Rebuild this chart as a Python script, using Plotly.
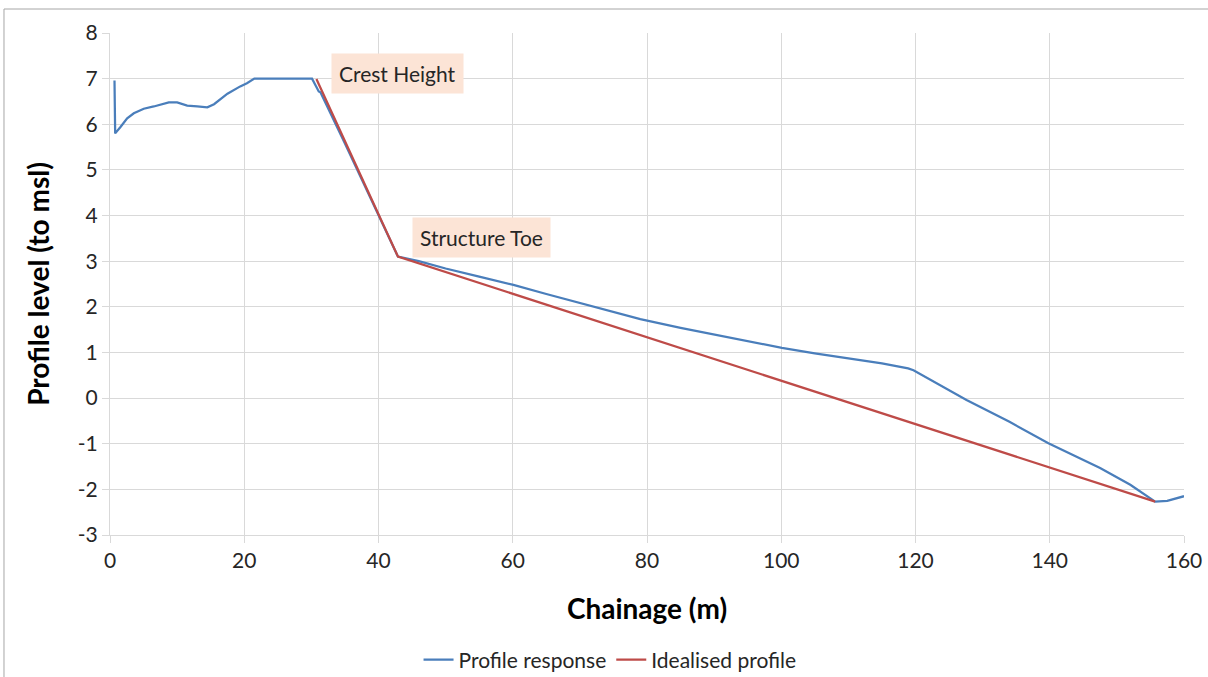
import plotly.graph_objects as go

# Profile response (blue)
resp_x = [0.67, 0.77, 1.56, 2.56, 3.55, 5.03, 6.52, 8.76, 10.0, 11.5, 13.0, 14.5, 15.5, 17.5, 19.4, 20.4, 21.5,
          30.1, 31.1, 31.35, 35.0, 40.0, 42.9, 46.0, 50.0, 55.0, 60.1, 65.0, 70.0, 75.0, 79.0, 85.0, 90.0, 95.0, 100.1,
          105.0, 110.0, 115.0, 118.9, 119.7, 127.6, 134.0, 139.8, 143.5, 147.5, 152.0, 155.7, 157.5, 160.0]
resp_y = [6.96, 5.80, 5.94, 6.13, 6.24, 6.34, 6.39, 6.48, 6.48, 6.41, 6.39, 6.37, 6.44, 6.67, 6.83, 6.90, 7.0,
          7.0, 6.72, 6.70, 5.58, 4.02, 3.10, 3.00, 2.84, 2.66, 2.48, 2.28, 2.08, 1.89, 1.73, 1.54, 1.39, 1.24, 1.10,
          0.98, 0.87, 0.76, 0.65, 0.61, -0.04, -0.52, -0.99, -1.25, -1.53, -1.90, -2.27, -2.25, -2.15]

# Idealised profile (red)
ideal_x = [30.75, 42.9, 155.7]
ideal_y = [6.99, 3.10, -2.27]

x_ticks = [0, 20, 40, 60, 80, 100, 120, 140, 160]
y_ticks = list(range(-3, 9))
y_ticklabels = [str(v) for v in y_ticks]

FONT = "Lato, Calibri, Carlito, sans-serif"
GRID = "#d9d9d9"
TXT = "#262626"

fig = go.Figure()
fig.add_trace(go.Scatter(x=resp_x, y=resp_y, mode="lines", name="Profile response",
                         line=dict(color="#4a7ebb", width=2.25)))
fig.add_trace(go.Scatter(x=ideal_x, y=ideal_y, mode="lines", name="Idealised profile",
                         line=dict(color="#be4b48", width=2.25)))

fig.update_layout(
    width=1208, height=677,
    margin=dict(l=110, r=24, t=33, b=142),
    paper_bgcolor="white", plot_bgcolor="white",
    font=dict(family=FONT, size=20, color=TXT),
    showlegend=True,
    legend=dict(orientation="h", x=0.505, xanchor="center", xref="container",
                y=0.025, yanchor="middle", yref="container",
                font=dict(size=21, color=TXT), tracegroupgap=0),
    xaxis=dict(range=[0, 160], tickvals=x_ticks, automargin=False,
               showgrid=True, gridcolor=GRID, gridwidth=1,
               showline=True, linecolor=GRID, linewidth=1,
               ticks="outside", ticklen=7, tickcolor=GRID,
               zeroline=False, tickfont=dict(size=21, color=TXT),
               title=dict(text="<b>Chainage (m)</b>", font=dict(size=28, color="#000000"), standoff=28)),
    yaxis=dict(range=[-3, 8], tickvals=y_ticks, ticktext=y_ticklabels, automargin=False,
               showgrid=True, gridcolor=GRID, gridwidth=1,
               showline=True, linecolor=GRID, linewidth=1,
               ticks="outside", ticklen=7, tickcolor=GRID,
               zeroline=False, tickfont=dict(size=21, color=TXT),
               title=dict(text="<b>Profile level (to msl)</b>", font=dict(size=28, color="#000000"), standoff=20)),
    shapes=[dict(type="rect", xref="paper", yref="paper", x0=-0.0987, x1=1.05, y0=-0.5, y1=1.0478,
                 line=dict(color="#a6a6a6", width=1), fillcolor="rgba(0,0,0,0)", layer="below")],
    annotations=[
        dict(x=42.9, y=7.12, xref="x", yref="y", text="Crest Height", showarrow=False,
             bgcolor="#fce4d6", borderpad=7, font=dict(size=21, color=TXT)),
        dict(x=55.4, y=3.51, xref="x", yref="y", text="Structure Toe", showarrow=False,
             bgcolor="#fce4d6", borderpad=7, font=dict(size=21, color=TXT)),
    ],
)

fig.write_html("out.html")
